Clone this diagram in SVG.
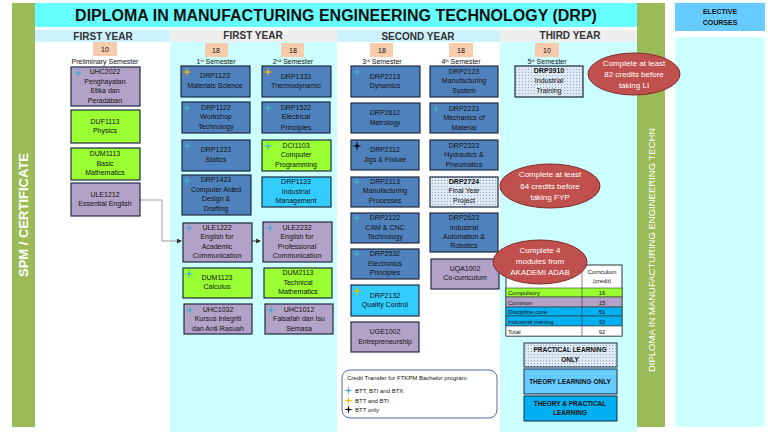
<svg xmlns="http://www.w3.org/2000/svg" width="768" height="433" viewBox="0 0 768 433">
<defs>
<style>
text{font-family:"Liberation Sans",Arial,sans-serif;fill:#111;text-anchor:middle}
.t{font-size:7px}
.h{font-size:10px;font-weight:bold;fill:#333}
.b{stroke:#1f2a44;stroke-width:1.2}
.blue{fill:#4f81bd}
.pur{fill:#b3a2c7}
.grn{fill:#99ff33}
.lb{fill:#33ccff}
.pat{fill:url(#dots)}
.cr{fill:#f8cbad}
.ell{fill:#c0504d;stroke:#7f2a28;stroke-width:1}
.et{font-size:8px;fill:#fff}
.c{stroke:#999;stroke-width:1;fill:none}
</style>
<pattern id="dots" width="3" height="3" patternUnits="userSpaceOnUse"><rect width="3" height="3" fill="#dde8f5"/><rect width="1" height="1" fill="#9ab"/></pattern>
<symbol id="star" viewBox="-6 -6 12 12"><path d="M0-6L1-1L6 0L1 1L0 6L-1 1L-6 0L-1-1Z"/></symbol>
<marker id="ar" markerWidth="5" markerHeight="5" refX="4" refY="2.5" orient="auto"><path d="M0 0L5 2.5L0 5Z" fill="#333"/></marker>
</defs>
<rect width="768" height="433" fill="#fff"/>
<rect x="12" y="3" width="23" height="424" fill="#9bbb59"/>
<text transform="translate(28,215) rotate(-90)" style="font-size:13px;font-weight:bold;fill:#fff">SPM / CERTIFICATE</text>
<rect x="35" y="3" width="602" height="24" fill="#66ffff"/>
<text x="336" y="21" style="font-size:16px;font-weight:bold">DIPLOMA IN MANUFACTURING ENGINEERING TECHNOLOGY (DRP)</text>
<rect x="35" y="30" width="135" height="12" fill="#ccf2ff"/>
<rect x="170" y="30" width="167" height="12" fill="#eeeeee"/>
<rect x="337" y="30" width="163" height="12" fill="#ccf2ff"/>
<rect x="500" y="30" width="137" height="12" fill="#eeeeee"/>
<rect x="170" y="42" width="167" height="390" fill="#ccffff"/>
<rect x="500" y="42" width="137" height="390" fill="#ccffff"/>
<text class="h" x="103" y="40">FIRST YEAR</text>
<text class="h" x="253" y="39">FIRST YEAR</text>
<text class="h" x="418" y="40">SECOND YEAR</text>
<text class="h" x="570" y="39">THIRD YEAR</text>
<rect x="637" y="3" width="28" height="424" fill="#9bbb59"/>
<text transform="translate(655,372) rotate(-90)" style="font-size:9.5px;fill:#fff;text-anchor:start">DIPLOMA IN MANUFACTURING ENGINEERING TECHN</text>
<rect x="675" y="3" width="90" height="28" fill="#66ccff"/>
<text x="720" y="14" style="font-size:7px;font-weight:bold">ELECTIVE</text>
<text x="720" y="25" style="font-size:7px;font-weight:bold">COURSES</text>
<rect x="675" y="37" width="90" height="390" fill="#ccffff"/>
<g id="credits" style="font-size:8px">
<rect class="cr" x="93" y="42" width="24" height="14"/><text x="105" y="52" class="t">10</text>
<rect class="cr" x="205" y="43" width="23" height="14"/><text x="216" y="53" class="t">18</text>
<rect class="cr" x="281" y="43" width="23" height="14"/><text x="293" y="53" class="t">18</text>
<rect class="cr" x="370" y="43" width="23" height="14"/><text x="382" y="53" class="t">18</text>
<rect class="cr" x="449" y="43" width="24" height="14"/><text x="461" y="53" class="t">18</text>
<rect class="cr" x="535" y="43" width="24" height="14"/><text x="547" y="53" class="t">10</text>
<text class="t" x="105" y="64">Preliminary Semester</text>
<text class="t" x="216" y="64">1<tspan style="font-size:4px" dy="-2">st</tspan><tspan dy="2"> Semester</tspan></text>
<text class="t" x="293" y="64">2<tspan style="font-size:4px" dy="-2">nd</tspan><tspan dy="2"> Semester</tspan></text>
<text class="t" x="382" y="64">3<tspan style="font-size:4px" dy="-2">rd</tspan><tspan dy="2"> Semester</tspan></text>
<text class="t" x="461" y="64">4<tspan style="font-size:4px" dy="-2">th</tspan><tspan dy="2"> Semester</tspan></text>
<text class="t" x="547" y="64">5<tspan style="font-size:4px" dy="-2">th</tspan><tspan dy="2"> Semester</tspan></text>
</g>
<g id="connectors">
<path class="c" d="M140 200H162V241H181" marker-end="url(#ar)"/>
<path class="c" d="M252 241H260" marker-end="url(#ar)" style="stroke:#333"/>
</g>
<g id="UHC2022"><rect class="b pur" x="71" y="67" width="69" height="39"/><text class="t" x="105" y="74">UHC2022</text><text class="t" x="105" y="84">Penghayatan</text><text class="t" x="105" y="93">Etika dan</text><text class="t" x="105" y="103">Peradaban</text></g>
<g id="DUF1113"><rect class="b grn" x="71" y="110" width="69" height="33"/><text class="t" x="105" y="124">DUF1113</text><text class="t" x="105" y="133">Physics</text></g>
<g id="DUM1113"><rect class="b grn" x="71" y="148" width="69" height="32"/><text class="t" x="105" y="156">DUM1113</text><text class="t" x="105" y="166">Basic</text><text class="t" x="105" y="175">Mathematics</text></g>
<g id="ULE1212"><rect class="b pur" x="71" y="183" width="69" height="33"/><text class="t" x="105" y="197">ULE1212</text><text class="t" x="105" y="206">Essential English</text></g>
<g id="DRP1123"><rect class="b blue" x="181" y="66" width="69" height="31"/><text class="t" x="215" y="78">DRP1123</text><text class="t" x="215" y="88">Materials Science</text></g>
<g id="DRP1122"><rect class="b blue" x="182" y="102" width="68" height="31"/><text class="t" x="216" y="110">DRP1122</text><text class="t" x="216" y="119">Workshop</text><text class="t" x="216" y="129">Technology</text></g>
<g id="DRP1223"><rect class="b blue" x="182" y="140" width="68" height="31"/><text class="t" x="216" y="152">DRP1223</text><text class="t" x="216" y="162">Statics</text></g>
<g id="DRP1423"><rect class="b blue" x="182" y="175" width="69" height="40"/><text class="t" x="216" y="182">DRP1423</text><text class="t" x="216" y="192">Computer Aided</text><text class="t" x="216" y="201">Design &amp;</text><text class="t" x="216" y="211">Drafting</text></g>
<g id="ULE1222"><rect class="b pur" x="183" y="223" width="69" height="39"/><text class="t" x="217" y="230">ULE1222</text><text class="t" x="217" y="239">English for</text><text class="t" x="217" y="249">Academic</text><text class="t" x="217" y="258">Communication</text></g>
<g id="DUM1123"><rect class="b grn" x="183" y="268" width="69" height="30"/><text class="t" x="217" y="280">DUM1123</text><text class="t" x="217" y="289">Calculus</text></g>
<g id="UHC1032"><rect class="b pur" x="184" y="304" width="68" height="30"/><text class="t" x="218" y="312">UHC1032</text><text class="t" x="218" y="321">Kursus Integriti</text><text class="t" x="218" y="331">dan Anti-Rasuah</text></g>
<g id="DRP1333"><rect class="b blue" x="262" y="66" width="69" height="31"/><text class="t" x="296" y="79">DRP1333</text><text class="t" x="296" y="88">Thermodynamic</text></g>
<g id="DRP1522"><rect class="b blue" x="262" y="102" width="68" height="31"/><text class="t" x="296" y="110">DRP1522</text><text class="t" x="296" y="119">Electrical</text><text class="t" x="296" y="130">Principles</text></g>
<g id="DCI1103"><rect class="b grn" x="262" y="140" width="69" height="31"/><text class="t" x="296" y="148">DCI1103</text><text class="t" x="296" y="157">Computer</text><text class="t" x="296" y="167">Programming</text></g>
<g id="DRP1133"><rect class="b lb" x="262" y="177" width="69" height="30"/><text class="t" x="296" y="184">DRP1133</text><text class="t" x="296" y="194">Industrial</text><text class="t" x="296" y="203">Management</text></g>
<g id="ULE2232"><rect class="b pur" x="263" y="222" width="69" height="40"/><text class="t" x="297" y="230">ULE2232</text><text class="t" x="297" y="239">English for</text><text class="t" x="297" y="249">Professional</text><text class="t" x="297" y="258">Communication</text></g>
<g id="DUM2113"><rect class="b grn" x="264" y="268" width="68" height="30"/><text class="t" x="298" y="275">DUM2113</text><text class="t" x="298" y="285">Technical</text><text class="t" x="298" y="294">Mathematics</text></g>
<g id="UHC1012"><rect class="b pur" x="265" y="304" width="68" height="30"/><text class="t" x="299" y="312">UHC1012</text><text class="t" x="299" y="321">Falsafah dan Isu</text><text class="t" x="299" y="331">Semasa</text></g>
<g id="DRP2213"><rect class="b blue" x="351" y="66" width="69" height="31"/><text class="t" x="385" y="79">DRP2213</text><text class="t" x="385" y="88">Dynamics</text></g>
<g id="DRP2612"><rect class="b blue" x="351" y="103" width="69" height="30"/><text class="t" x="385" y="115">DRP2612</text><text class="t" x="385" y="125">Metrology</text></g>
<g id="DRP2112"><rect class="b blue" x="351" y="140" width="68" height="30"/><text class="t" x="385" y="152">DRP2112</text><text class="t" x="385" y="162">Jigs &amp; Fixture</text></g>
<g id="DRP2113"><rect class="b blue" x="351" y="177" width="68" height="30"/><text class="t" x="385" y="184">DRP2113</text><text class="t" x="385" y="193">Manufacturing</text><text class="t" x="385" y="203">Processes</text></g>
<g id="DRP2122"><rect class="b blue" x="351" y="213" width="68" height="30"/><text class="t" x="385" y="220">DRP2122</text><text class="t" x="385" y="230">CAM &amp; CNC</text><text class="t" x="385" y="239">Technology</text></g>
<g id="DRP2532"><rect class="b blue" x="351" y="249" width="68" height="30"/><text class="t" x="385" y="256">DRP2532</text><text class="t" x="385" y="266">Electronics</text><text class="t" x="385" y="275">Principles</text></g>
<g id="DRP2132"><rect class="b lb" x="351" y="285" width="68" height="31"/><text class="t" x="385" y="298">DRP2132</text><text class="t" x="385" y="307">Quality Control</text></g>
<g id="UGE1002"><rect class="b pur" x="351" y="322" width="68" height="30"/><text class="t" x="385" y="334">UGE1002</text><text class="t" x="385" y="344">Entrepreneurship</text></g>
<g id="DRP2123"><rect class="b blue" x="430" y="66" width="68" height="31"/><text class="t" x="464" y="74">DRP2123</text><text class="t" x="464" y="83">Manufacturing</text><text class="t" x="464" y="93">System</text></g>
<g id="DRP2223"><rect class="b blue" x="430" y="103" width="68" height="30"/><text class="t" x="464" y="111">DRP2223</text><text class="t" x="464" y="120">Mechanics of</text><text class="t" x="464" y="130">Material</text></g>
<g id="DRP2323"><rect class="b blue" x="430" y="140" width="68" height="30"/><text class="t" x="464" y="148">DRP2323</text><text class="t" x="464" y="157">Hydraulics &amp;</text><text class="t" x="464" y="167">Pneumatics</text></g>
<g id="DRP2724"><rect class="b pat" x="430" y="177" width="68" height="30"/><text class="t" x="464" y="184" style="font-weight:bold">DRP2724</text><text class="t" x="464" y="193">Final Year</text><text class="t" x="464" y="203">Project</text></g>
<g id="DRP2623"><rect class="b blue" x="430" y="213" width="68" height="39"/><text class="t" x="464" y="220">DRP2623</text><text class="t" x="464" y="230">Industrial</text><text class="t" x="464" y="239">Automation &amp;</text><text class="t" x="464" y="248">Robotics</text></g>
<g id="UQA1002"><rect class="b pur" x="431" y="259" width="68" height="30"/><text class="t" x="465" y="271">UQA1002</text><text class="t" x="465" y="280">Co-curriculum</text></g>
<g id="DRP3910"><rect class="b pat" x="515" y="66" width="68" height="31"/><text class="t" x="549" y="73" style="font-weight:bold">DRP3910</text><text class="t" x="549" y="83">Industrial</text><text class="t" x="549" y="93">Training</text></g>
<g id="stars">
<use href="#star" x="73" y="68" width="10" height="10" fill="#4bacc6"/>
<use href="#star" x="182" y="67" width="10" height="10" fill="#f5b800"/>
<use href="#star" x="182" y="103" width="10" height="10" fill="#4bacc6"/>
<use href="#star" x="182" y="141" width="10" height="10" fill="#4bacc6"/>
<use href="#star" x="182" y="176" width="10" height="10" fill="#4bacc6"/>
<use href="#star" x="184" y="223" width="10" height="10" fill="#4bacc6"/>
<use href="#star" x="184" y="269" width="10" height="10" fill="#4bacc6"/>
<use href="#star" x="185" y="305" width="10" height="10" fill="#4bacc6"/>
<use href="#star" x="263" y="67" width="10" height="10" fill="#f5b800"/>
<use href="#star" x="263" y="103" width="10" height="10" fill="#4bacc6"/>
<use href="#star" x="263" y="141" width="10" height="10" fill="#4bacc6"/>
<use href="#star" x="265" y="223" width="10" height="10" fill="#4bacc6"/>
<use href="#star" x="266" y="305" width="10" height="10" fill="#4bacc6"/>
<use href="#star" x="352" y="67" width="10" height="10" fill="#4bacc6"/>
<use href="#star" x="352" y="141" width="10" height="10" fill="#000"/>
<use href="#star" x="352" y="177" width="10" height="10" fill="#4bacc6"/>
<use href="#star" x="352" y="213" width="10" height="10" fill="#4bacc6"/>
<use href="#star" x="352" y="249" width="10" height="10" fill="#4bacc6"/>
<use href="#star" x="352" y="286" width="10" height="10" fill="#f5b800"/>
<use href="#star" x="431" y="104" width="10" height="10" fill="#4bacc6"/>
</g>
<g id="table" style="font-size:6px">
<rect x="506" y="265" width="116" height="71" fill="#fff" stroke="#333"/>
<rect x="506" y="288" width="116" height="9" fill="#99ff33" stroke="#333" stroke-width=".6"/>
<rect x="506" y="297" width="116" height="10" fill="#b3a2c7" stroke="#333" stroke-width=".6"/>
<rect x="506" y="307" width="116" height="9" fill="#00b0f0" stroke="#333" stroke-width=".6"/>
<rect x="506" y="316" width="116" height="10" fill="#00b0f0" stroke="#333" stroke-width=".6"/>
<rect x="506" y="326" width="116" height="10" fill="#fff" stroke="#333" stroke-width=".6"/>
<line x1="582" y1="265" x2="582" y2="336" stroke="#333" stroke-width=".6"/>
<text x="602" y="274" style="font-size:6px">Curriculum</text><text x="602" y="283" style="font-size:6px">(credit)</text>
<text x="508" y="295" style="font-size:6px;text-anchor:start">Compulsory</text><text x="602" y="295" style="font-size:6px">16</text>
<text x="508" y="305" style="font-size:6px;text-anchor:start">Common</text><text x="602" y="305" style="font-size:6px">15</text>
<text x="508" y="314" style="font-size:6px;text-anchor:start">Discipline core</text><text x="602" y="314" style="font-size:6px">51</text>
<text x="508" y="324" style="font-size:6px;text-anchor:start">Industrial training</text><text x="602" y="324" style="font-size:6px">10</text>
<text x="508" y="334" style="font-size:6px;text-anchor:start">Total</text><text x="602" y="334" style="font-size:6px">92</text>
</g>
<g id="notes">
<ellipse class="ell" cx="634" cy="74" rx="46" ry="21"/><text class="et" x="634" y="66">Complete at least</text><text class="et" x="634" y="77">82 credits before</text><text class="et" x="634" y="88">taking LI</text>
<ellipse class="ell" cx="550" cy="186" rx="50" ry="22"/><text class="et" x="550" y="177">Complete at least</text><text class="et" x="550" y="189">64 credits before</text><text class="et" x="550" y="200">taking FYP</text>
<ellipse class="ell" cx="540" cy="262" rx="47" ry="22"/><text class="et" x="540" y="253">Complete 4</text><text class="et" x="540" y="264">modules from</text><text class="et" x="540" y="275">AKADEMI ADAB</text>
</g>
<g id="legend">
<rect x="524" y="343" width="93" height="24" class="pat" stroke="#1f2a44"/>
<text x="570" y="352" style="font-size:6.5px;font-weight:bold">PRACTICAL LEARNING</text><text x="570" y="362" style="font-size:6.5px;font-weight:bold">ONLY</text>
<rect x="524" y="369" width="93" height="25" fill="#66ccff" stroke="#1f2a44"/>
<text x="570" y="384" style="font-size:6.5px;font-weight:bold">THEORY LEARNING ONLY</text>
<rect x="524" y="396" width="93" height="25" fill="#00b0f0" stroke="#1f2a44"/>
<text x="570" y="406" style="font-size:6.5px;font-weight:bold">THEORY &amp; PRACTICAL</text><text x="570" y="415" style="font-size:6.5px;font-weight:bold">LEARNING</text>
<rect x="342" y="370" width="155" height="48" rx="8" fill="#fff" stroke="#4f6fa8"/>
<text x="347" y="380" style="font-size:6px;text-anchor:start">Credit Transfer for FTKPM Bachelor program</text>
<use href="#star" x="344" y="386" width="9" height="9" fill="#4bacc6"/><text x="355" y="393" style="font-size:6px;text-anchor:start">BTT, BTI and BTX</text>
<use href="#star" x="344" y="396" width="9" height="9" fill="#f5b800"/><text x="355" y="403" style="font-size:6px;text-anchor:start">BTT and BTI</text>
<use href="#star" x="344" y="405" width="9" height="9" fill="#000"/><text x="355" y="412" style="font-size:6px;text-anchor:start">BTT only</text>
</g>
</svg>
